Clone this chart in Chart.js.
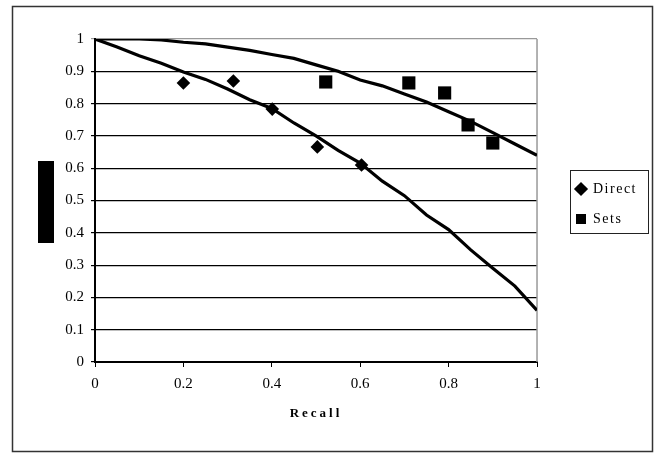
<!DOCTYPE html>
<html>
<head>
<meta charset="utf-8">
<script src="https://cdn.jsdelivr.net/npm/chart.js@4"></script>
<style>
  html, body { margin: 0; padding: 0; background: #fff; }
  #wrap { width: 656px; height: 454px; }
</style>
</head>
<body>
<div id="wrap"><canvas id="chart" width="656" height="454"></canvas></div>
<script>
// Curve sample positions (recall) and precision values
const recallGrid = [0, 0.05, 0.1, 0.15, 0.2, 0.25, 0.3, 0.35, 0.4, 0.45, 0.5,
                    0.55, 0.6, 0.65, 0.7, 0.75, 0.8, 0.85, 0.9, 0.95, 1];
const directCurve = [1, 0.975, 0.948, 0.925, 0.898, 0.875, 0.845, 0.812, 0.785, 0.74, 0.7,
                     0.655, 0.616, 0.56, 0.515, 0.455, 0.41, 0.347, 0.29, 0.235, 0.16];
const setsCurve = [1, 1, 1, 0.997, 0.99, 0.985, 0.975, 0.965, 0.952, 0.94, 0.92,
                   0.9, 0.873, 0.855, 0.83, 0.805, 0.775, 0.745, 0.71, 0.675, 0.64];

// Marker points
const directX = [0.2, 0.313, 0.401, 0.503, 0.603];
const directY = [0.864, 0.87, 0.783, 0.666, 0.61];
const setsX = [0.522, 0.71, 0.791, 0.844, 0.9];
const setsY = [0.867, 0.864, 0.833, 0.734, 0.678];

const seriesNames = ['Direct', 'Sets'];
const xTitle = 'Recall';

const toXY = (xs, ys) => xs.map((x, i) => ({ x: x, y: ys[i] }));
const serif = "'Liberation Serif', 'Times New Roman', serif";
const fmt = v => String(Number(v.toFixed(2)));

// frame, redacted y title box, legend border, letter spacing
const decorPlugin = {
    id: 'decor',
    beforeDraw(chart) {
        const ctx = chart.ctx;
        ctx.save();
        ctx.fillStyle = '#fff';
        ctx.fillRect(0, 0, chart.width, chart.height);
        ctx.strokeStyle = '#333';
        ctx.lineWidth = 1.5;
        ctx.strokeRect(12.5, 6.5, 640, 445);
        ctx.fillStyle = '#000';
        ctx.fillRect(38, 161, 16, 82);
        ctx.restore();

        const xs = chart.scales.x;
        if (xs && !xs._spaced) {
            const orig = xs.drawTitle;
            xs.drawTitle = function () {
                this.ctx.save();
                this.ctx.letterSpacing = '3px';
                orig.apply(this, arguments);
                this.ctx.restore();
            };
            xs._spaced = true;
        }
        const lg = chart.legend;
        if (lg && !lg._spaced) {
            const origL = lg.draw;
            lg.draw = function () {
                const c = this.ctx;
                c.save();
                // place items inside the bordered box beside the plot
                const first = this.legendHitBoxes[0];
                c.translate(576 - first.left, 182 - first.top);
                c.letterSpacing = '1.5px';
                origL.apply(this, arguments);
                c.restore();
            };
            lg._spaced = true;
        }
    },
    beforeDatasetsDraw(chart) {
        const { ctx, chartArea } = chart;
        ctx.save();
        ctx.strokeStyle = '#999';
        ctx.lineWidth = 1.5;
        ctx.beginPath();
        ctx.moveTo(chartArea.right, chartArea.bottom);
        ctx.lineTo(chartArea.right, chartArea.top);
        ctx.stroke();
        ctx.restore();
    },
    afterDraw(chart) {
        const ctx = chart.ctx;
        ctx.save();
        ctx.strokeStyle = '#222';
        ctx.lineWidth = 1;
        ctx.strokeRect(570.5, 170.5, 78, 63);
        ctx.restore();
    }
};

const ctx = document.getElementById('chart');
new Chart(ctx, {
    type: 'scatter',
    data: {
        datasets: [
            {
                label: 'directCurve',
                data: toXY(recallGrid, directCurve),
                showLine: true,
                borderColor: '#000',
                borderWidth: 3.2,
                pointRadius: 0,
                tension: 0
            },
            {
                label: 'setsCurve',
                data: toXY(recallGrid, setsCurve),
                showLine: true,
                borderColor: '#000',
                borderWidth: 3.2,
                pointRadius: 0,
                tension: 0
            },
            {
                label: seriesNames[0],
                data: toXY(directX, directY),
                pointStyle: 'rectRot',
                pointRadius: 6.8,
                backgroundColor: '#000',
                borderColor: '#000',
                borderWidth: 0
            },
            {
                label: seriesNames[1],
                data: toXY(setsX, setsY),
                pointStyle: 'rect',
                pointRadius: 9.3,
                backgroundColor: '#000',
                borderColor: '#000',
                borderWidth: 0
            }
        ]
    },
    options: {
        responsive: false,
        animation: false,
        devicePixelRatio: 1,
        layout: { padding: { left: 0, top: 39, right: 41, bottom: 0 } },
        plugins: {
            legend: {
                position: 'right',
                labels: {
                    filter: item => seriesNames.includes(item.text),
                    usePointStyle: true,
                    boxHeight: 10,
                    boxWidth: 10,
                    padding: 16,
                    color: '#000',
                    font: { family: serif, size: 14 }
                }
            },
            tooltip: { enabled: false }
        },
        scales: {
            x: {
                type: 'linear',
                min: 0,
                max: 1,
                afterFit: s => { s.height = 92; },
                ticks: {
                    stepSize: 0.2,
                    padding: 8,
                    color: '#000',
                    font: { family: serif, size: 15 },
                    callback: fmt
                },
                grid: {
                    drawOnChartArea: false,
                    drawTicks: true,
                    tickLength: 5,
                    color: '#000'
                },
                border: { color: '#000', width: 2 },
                title: {
                    display: true,
                    text: xTitle,
                    color: '#000',
                    font: { family: serif, size: 13, weight: 'bold' },
                    padding: { top: 0, bottom: 33 }
                }
            },
            y: {
                type: 'linear',
                min: 0,
                max: 1,
                afterFit: s => { s.width = 95; },
                ticks: {
                    stepSize: 0.1,
                    padding: 7,
                    color: '#000',
                    font: { family: serif, size: 15 },
                    callback: fmt
                },
                grid: {
                    tickLength: 4,
                    lineWidth: 1.2,
                    color: c => (c.tick && c.tick.value === 1) ? '#999' : '#000'
                },
                border: { color: '#000', width: 2 }
            }
        }
    },
    plugins: [decorPlugin]
});
</script>
</body>
</html>
